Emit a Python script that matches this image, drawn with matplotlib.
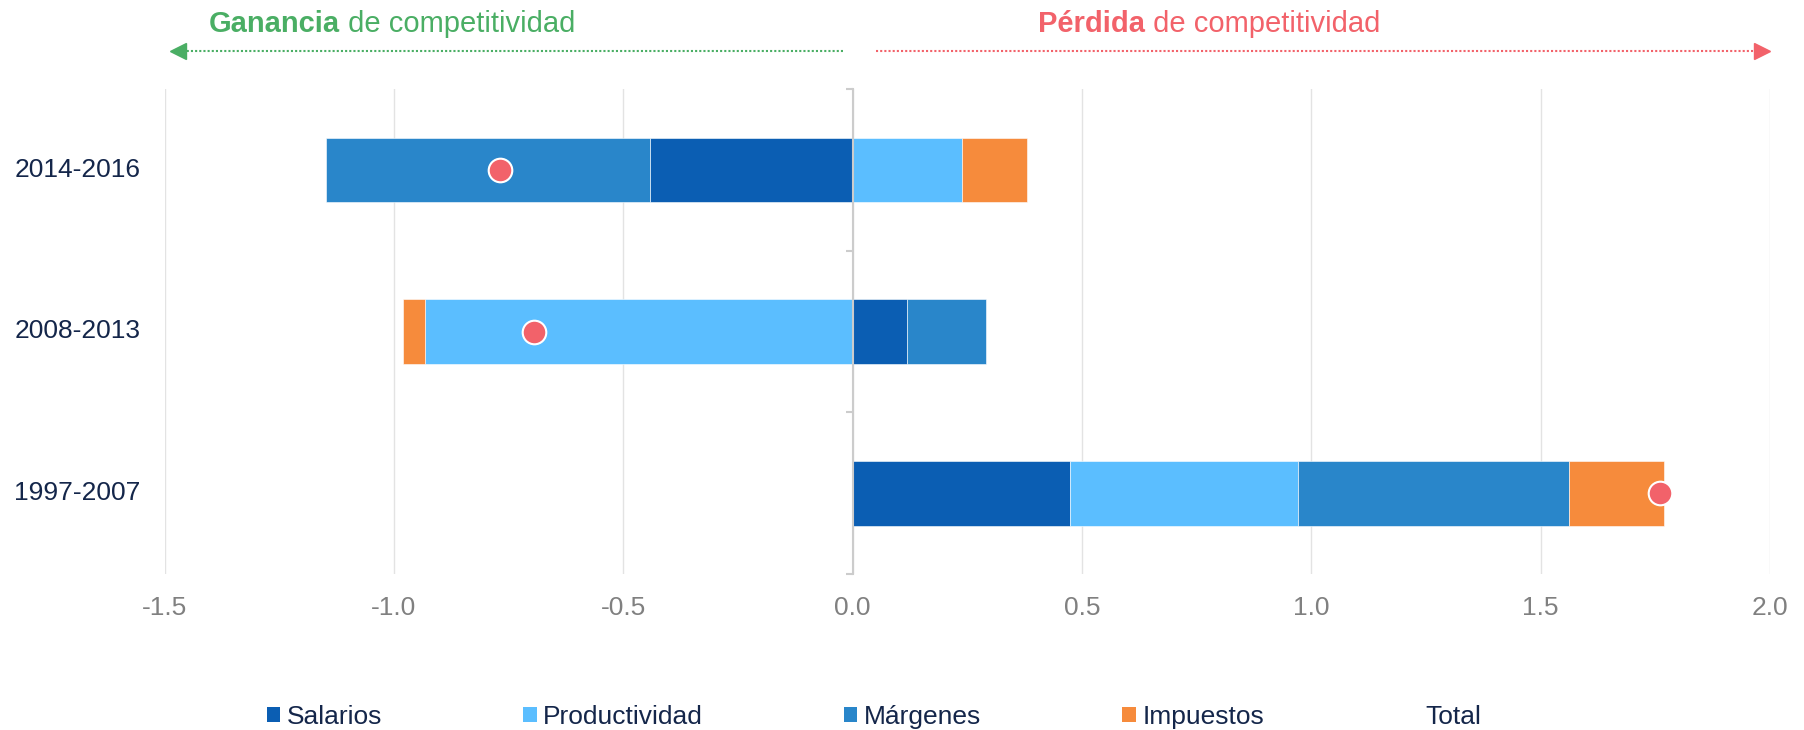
import numpy as np
import matplotlib.pyplot as plt
import matplotlib.transforms as mtransforms
from matplotlib.patches import Rectangle

plt.rcParams['font.family'] = ['Liberation Sans', 'DejaVu Sans']

# data (bottom to top)
periods = ['1997-2007', '2008-2013', '2014-2016']
series_names = ['Salarios', 'Productividad', 'Márgenes', 'Impuestos']
salarios = [0.473, 0.118, -0.442]
productividad = [0.499, -0.932, 0.239]
margenes = [0.589, 0.172, -0.705]
impuestos = [0.208, -0.049, 0.141]
total = [1.761, -0.695, -0.769]
x_ticks = [-1.5, -1.0, -0.5, 0.0, 0.5, 1.0, 1.5, 2.0]

colors = ['#0b5eb3', '#5bbeff', '#2986ca', '#f68b3c']
dot_color = '#f2626a'
navy = '#14264a'
green = '#4aae64'
red = '#f2626a'

W, H = 1804, 730
fig = plt.figure(figsize=(W / 100, H / 100), dpi=100)
ax = fig.add_axes([164.5 / W, 1 - 574 / H, (1770 - 164.5) / W, (574 - 89) / H])

y = np.arange(len(periods))
pos_left = np.zeros(len(periods))
neg_left = np.zeros(len(periods))
for name, vals, col in zip(series_names, [salarios, productividad, margenes, impuestos], colors):
    vals = np.array(vals)
    left = np.where(vals >= 0, pos_left, neg_left)
    ax.barh(y, vals, left=left, height=0.4, color=col, edgecolor='white', linewidth=0.4, zorder=2)
    pos_left = pos_left + np.where(vals >= 0, vals, 0)
    neg_left = neg_left + np.where(vals < 0, vals, 0)

ax.plot(total, y, linestyle='none', marker='o', markersize=17, markerfacecolor=dot_color,
        markeredgecolor='white', markeredgewidth=1.5, zorder=5, clip_on=False)

ax.set_xlim(-1.5, 2.0)
ax.set_ylim(-0.5, 2.5)
ax.set_xticks(x_ticks)
ax.set_xticklabels([f'{v:.1f}' for v in x_ticks])
ax.tick_params(axis='x', length=0, pad=16, labelsize=19, labelcolor='#808080')
ax.set_yticks([])
ax.grid(axis='x', color='#e3e3e3', linewidth=1)
ax.set_axisbelow(True)
for s in ax.spines.values():
    s.set_visible(False)

# category labels
trans = mtransforms.blended_transform_factory(ax.transAxes, ax.transData)
for yi, lab in zip(y, periods):
    ax.text(-0.0149, yi, lab, transform=trans, ha='right', va='center', fontsize=19, color=navy)

# category axis on zero line
ax2 = ax.twinx()
ax2.set_ylim(ax.get_ylim())
for s in ax2.spines.values():
    s.set_visible(False)
ax2.spines['right'].set_visible(True)
ax2.spines['right'].set_position(('data', 0))
ax2.spines['right'].set_color('#cccccc')
ax2.spines['right'].set_linewidth(1.5)
ax2.set_yticks(np.arange(-0.5, len(periods), 1.0))
ax2.tick_params(axis='y', direction='in', length=5, width=1.5, color='#cccccc', labelright=False)
ax2.set_xlim(ax.get_xlim())

# top annotations with arrows
ytop = 1 - 51 / H
btrans = mtransforms.blended_transform_factory(ax.transData, fig.transFigure)
ax.plot([-0.02, -1.46], [ytop, ytop], transform=btrans, color=green, linewidth=1.5,
        linestyle=(0, (1, 1)), clip_on=False)
ax.plot([-1.47], [ytop], transform=btrans, marker='<', markersize=11, color=green, clip_on=False)
ax.plot([0.05, 1.97], [ytop, ytop], transform=btrans, color=red, linewidth=1.5,
        linestyle=(0, (1, 1)), clip_on=False)
ax.plot([1.982], [ytop], transform=btrans, marker='>', markersize=11, color=red, clip_on=False)

ytxt = 1 - 24 / H
t1 = fig.text(209 / W, ytxt, 'Ganancia', fontsize=21, fontweight='bold', color=green, va='center')
ax.annotate(' de competitividad', xy=(1, 0), xycoords=t1, va='bottom', ha='left',
            fontsize=21, color=green)
t2 = fig.text(1038 / W, ytxt, 'Pérdida', fontsize=21, fontweight='bold', color=red, va='center')
ax.annotate(' de competitividad', xy=(1, 0), xycoords=t2, va='bottom', ha='left',
            fontsize=21, color=red)

# legend
handles = [Rectangle((0, 0), 1, 1, facecolor=c, edgecolor='none') for c in colors]
handles.append(Rectangle((0, 0), 1, 1, facecolor='none', edgecolor='none'))
leg = fig.legend(handles, series_names + ['Total'], loc='center left',
                 bbox_to_anchor=(267 / W, 1 - 717 / H), ncol=5, frameon=False,
                 fontsize=19, handlelength=0.5, handleheight=0.5, handletextpad=0.25,
                 columnspacing=5.35, borderpad=0, borderaxespad=0)
for t in leg.get_texts():
    t.set_color(navy)

fig.savefig('out.png', dpi=100)
